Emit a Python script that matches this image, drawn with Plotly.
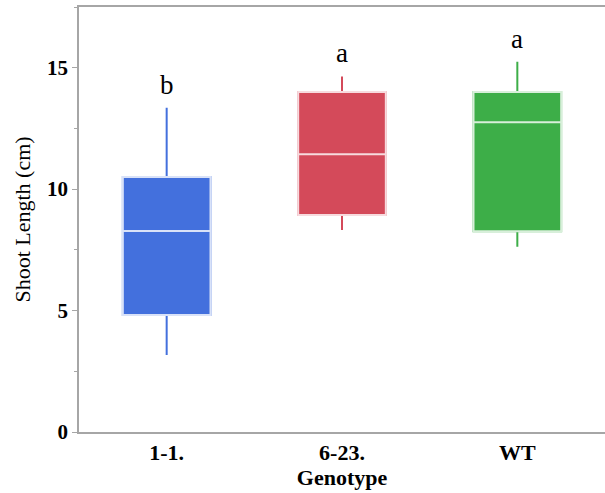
import plotly.graph_objects as go

genotypes = ["1-1.", "6-23.", "WT"]
lower_whisker = [3.17, 8.32, 7.63]
q1_vals = [4.82, 8.94, 8.27]
medians = [8.28, 11.44, 12.75]
q3_vals = [10.50, 14.00, 14.00]
upper_whisker = [13.35, 14.64, 15.25]
letters = ["b", "a", "a"]
colors = ["#4370DD", "#D44A5A", "#3DAE48"]

fig = go.Figure()
for i, g in enumerate(genotypes):
    # whiskers + base box
    fig.add_trace(go.Box(
        x=[g], q1=[q1_vals[i]], median=[medians[i]], q3=[q3_vals[i]],
        lowerfence=[lower_whisker[i]], upperfence=[upper_whisker[i]],
        fillcolor=colors[i], line=dict(color=colors[i], width=2),
        whiskerwidth=0, width=0.5, boxpoints=False, showlegend=False,
        hoverinfo="skip",
    ))
    # box with white median line
    fig.add_trace(go.Box(
        x=[g], q1=[q1_vals[i]], median=[medians[i]], q3=[q3_vals[i]],
        lowerfence=[q1_vals[i]], upperfence=[q3_vals[i]],
        fillcolor=colors[i], line=dict(color="rgba(255,255,255,0.8)", width=2),
        whiskerwidth=0, width=0.5, boxpoints=False, showlegend=False,
    ))
    fig.add_annotation(
        x=g, y=upper_whisker[i], text=letters[i], showarrow=False,
        yanchor="bottom", yshift=6,
        font=dict(family="Liberation Serif", size=27, color="black"),
    )

serif = "Liberation Serif"
fig.update_layout(
    width=605, height=493,
    margin=dict(l=79, r=0, t=7, b=61),
    paper_bgcolor="white", plot_bgcolor="white",
    boxmode="overlay",
    xaxis=dict(
        showline=True, linecolor="#a6a6a6", linewidth=1.5, mirror=True,
        ticks="", showgrid=False, zeroline=False,
        tickfont=dict(family=serif, size=22, color="black", weight="bold"),
        title=dict(text="Genotype", standoff=2,
                   font=dict(family=serif, size=22, color="black", weight="bold")),
        range=[-0.5, 2.5],
    ),
    yaxis=dict(
        range=[0, 17.5], tickvals=[0, 5, 10, 15],
        showline=True, linecolor="#a6a6a6", linewidth=1.5,
        ticks="outside", ticklen=5, tickcolor="#a6a6a6",
        minor=dict(ticks="outside", ticklen=3, dtick=2.5, tickcolor="#a6a6a6"),
        showgrid=False, zeroline=False,
        tickfont=dict(family=serif, size=21, color="black", weight="bold"),
        title=dict(text="Shoot Length (cm)", standoff=10,
                   font=dict(family=serif, size=22, color="black")),
    ),
)

fig.write_html("out.html")
